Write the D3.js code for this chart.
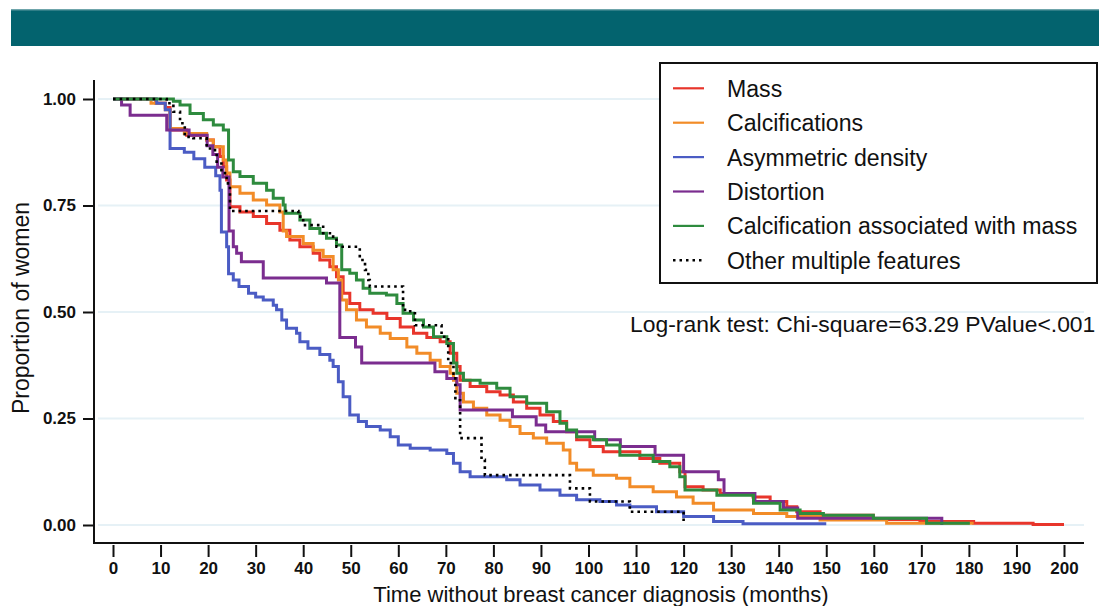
<!DOCTYPE html>
<html>
<head>
<meta charset="utf-8">
<script src="https://cdn.jsdelivr.net/npm/d3@7"></script>
<style>
  body { margin: 0; background: #fff; }
  svg { display: block; font-family: "Liberation Sans", Arial, sans-serif; }
</style>
</head>
<body>
<div id="chart"></div>
<script>
// series names (legend order)
const seriesNames = ["Mass", "Calcifications", "Asymmetric density", "Distortion",
    "Calcification associated with mass", "Other multiple features"];
const seriesColors = ["#e8352b", "#f28c28", "#4b5cc4", "#7b2d8f", "#2e8b3e", "#000000"];

// Kaplan-Meier steps: [months, proportion]
const mass = [[0,1],[9,0.99],[11,0.98],[12,0.927],[15.5,0.915],[19.7,0.904],[21.1,0.888],[22.5,0.865],
    [23.2,0.841],[23.9,0.81],[24.6,0.747],[26.7,0.735],[29.5,0.724],[32.3,0.708],[35.1,0.692],[37.2,0.669],
    [39.3,0.653],[42.1,0.638],[43.5,0.622],[45.6,0.606],[47,0.583],[48.4,0.544],[49.8,0.52],[51.9,0.505],
    [54.7,0.497],[57.6,0.485],[60.4,0.465],[63.2,0.45],[66,0.44],[68.8,0.43],[70.9,0.403],[72.3,0.372],
    [73,0.34],[75.1,0.325],[78.6,0.313],[81.4,0.305],[84.2,0.289],[87,0.274],[89.8,0.258],[92.6,0.243],
    [95.4,0.219],[97.5,0.2],[100.3,0.184],[103.1,0.172],[110.8,0.156],[115,0.145],[119.2,0.125],[120.3,0.09],
    [124.1,0.082],[127.7,0.074],[134.6,0.066],[138.2,0.055],[141.7,0.043],[143.8,0.031],[148.7,0.023],
    [159.9,0.013],[169.7,0.008],[181,0.004],[193.5,0.001],[200,0.001]];

const calcifications = [[0,1],[8,0.99],[11,0.975],[12,0.931],[15,0.919],[19.7,0.904],[21.1,0.888],[23.2,0.857],
    [23.9,0.826],[24.6,0.794],[26.7,0.779],[29.5,0.763],[32.3,0.751],[35.1,0.735],[35.8,0.69],[36.5,0.677],
    [40,0.661],[42.1,0.645],[44.2,0.63],[46.3,0.599],[47.4,0.575],[48.1,0.528],[49.1,0.505],[51.2,0.481],
    [53.3,0.465],[56.2,0.45],[58.3,0.438],[61.8,0.418],[63.9,0.403],[66.7,0.387],[68.8,0.372],[70.9,0.356],
    [71.6,0.34],[72.3,0.309],[73.7,0.289],[75.8,0.274],[78.6,0.258],[81.4,0.246],[83.5,0.231],[85.6,0.215],
    [88.4,0.204],[91.2,0.192],[94.7,0.176],[96.1,0.145],[97.5,0.129],[101,0.117],[105.9,0.11],[108.7,0.09],
    [113.6,0.078],[118.5,0.066],[122,0.051],[126.3,0.035],[134.7,0.027],[141.7,0.02],[148.7,0.012],
    [162.7,0.004],[181,0.004]];

const asymmetric = [[0,1],[9.2,0.99],[11,0.975],[12,0.884],[15,0.875],[17,0.86],[19.3,0.84],[21.6,0.82],
    [22.5,0.786],[22.8,0.688],[23.9,0.653],[24.3,0.59],[25.3,0.575],[26.5,0.56],[28.5,0.544],[30,0.535],
    [31.6,0.528],[33.7,0.516],[34.4,0.505],[35.5,0.481],[36.5,0.462],[38.6,0.45],[39.3,0.43],[41,0.415],
    [43.5,0.4],[45.6,0.387],[46.3,0.372],[47.4,0.336],[48.4,0.301],[49.8,0.258],[51.6,0.243],[53.3,0.231],
    [56.2,0.223],[58.3,0.207],[60,0.188],[62.5,0.18],[66.7,0.176],[70.2,0.168],[71.6,0.145],[73,0.125],
    [75.1,0.113],[82.8,0.106],[85.6,0.094],[89.8,0.082],[94,0.07],[97.5,0.059],[102.4,0.055],[105.9,0.047],
    [108.7,0.043],[114.3,0.031],[120,0.02],[126.3,0.008],[132.5,0.003],[150,0.003]];

const distortion = [[0,1],[1.8,0.986],[3.6,0.962],[11.3,0.927],[16,0.915],[19.8,0.89],[21,0.87],[22,0.84],
    [23.1,0.817],[24.4,0.69],[25.3,0.653],[26,0.638],[27,0.618],[31.6,0.58],[44.9,0.568],[47.7,0.44],
    [51,0.418],[52.3,0.38],[67.7,0.36],[70.2,0.344],[72.3,0.329],[73,0.27],[84,0.254],[89,0.235],[91,0.219],
    [101.3,0.2],[106.7,0.184],[114,0.164],[120,0.125],[127.3,0.106],[128.5,0.074],[135,0.055],[141,0.04],
    [144,0.016],[174.3,0]];

const calcWithMass = [[0,1],[12.7,0.995],[14.1,0.986],[16.2,0.966],[19,0.951],[21.1,0.939],[23.2,0.927],
    [24.3,0.857],[25.3,0.829],[26.7,0.818],[29.5,0.802],[32.3,0.786],[33.7,0.767],[35.8,0.751],[36.2,0.732],
    [39.3,0.716],[41.4,0.696],[43.5,0.685],[44.9,0.673],[47,0.657],[48.1,0.599],[49.8,0.591],[51.2,0.575],
    [52.6,0.556],[54,0.544],[57.5,0.54],[59.7,0.52],[61,0.497],[63.2,0.481],[65.3,0.465],[67.4,0.442],
    [70.2,0.426],[71.6,0.38],[72.3,0.356],[73.7,0.34],[77.2,0.333],[80.7,0.321],[83.5,0.301],[87,0.286],
    [91.2,0.266],[94,0.239],[95.4,0.223],[97.5,0.207],[101,0.2],[103.8,0.188],[106.6,0.164],[113.6,0.149],
    [117.1,0.137],[119.2,0.113],[120.3,0.082],[127,0.07],[134.7,0.051],[140.3,0.035],[144.5,0.027],
    [149.4,0.023],[159.9,0.016],[171.1,0.004],[180.2,0.004]];

const otherMultiple = [[0,1],[11.3,0.99],[12.7,0.97],[14.1,0.943],[15.1,0.911],[16.9,0.908],[19.7,0.888],
    [20.4,0.88],[21.8,0.853],[22.8,0.826],[23.9,0.802],[24.6,0.737],[39,0.724],[40,0.704],[44.2,0.685],
    [46.3,0.677],[47,0.653],[51.9,0.622],[53,0.599],[53.7,0.575],[54,0.56],[61,0.505],[62.5,0.497],
    [63.5,0.469],[69.1,0.442],[70.5,0.38],[71.6,0.348],[72,0.293],[73,0.204],[77.5,0.153],[78.2,0.117],
    [96.1,0.086],[100.3,0.055],[108.7,0.031],[120,0]];

const xTicks = d3.range(0, 201, 10);
const yTicks = [0, 0.25, 0.5, 0.75, 1];
const xTitle = "Time without breast cancer diagnosis (months)";
const yTitle = "Proportion of women";
const testText = "Log-rank test: Chi-square=63.29 PValue<.001";

function init() {
    const width = 1103, height = 606;
    const seriesData = [mass, calcifications, asymmetric, distortion, calcWithMass, otherMultiple];

    let svg = d3.select("#chart")
        .append("svg")
        .attr("width", width)
        .attr("height", height);

    // teal banner on top
    svg.append("rect")
        .attr("x", 11).attr("y", 9.5).attr("width", 1088).attr("height", 36.5)
        .attr("fill", "#03636e");
    svg.append("line")
        .attr("x1", 11).attr("x2", 1099).attr("y1", 10).attr("y2", 10)
        .attr("stroke", "#5f9aa0").attr("stroke-width", 1);

    let x = d3.scaleLinear().domain([0, 200]).range([113, 1064]);
    let y = d3.scaleLinear().domain([0, 1]).range([525, 99]);
    const axisX = 94, axisY = 543, plotRight = 1084, plotTop = 80;

    // light grid lines
    svg.append("g")
        .selectAll("line")
        .data(yTicks)
        .join("line")
        .attr("x1", axisX + 4).attr("x2", plotRight)
        .attr("y1", d => y(d)).attr("y2", d => y(d))
        .attr("stroke", "#e6f1f6")
        .attr("stroke-width", 2);

    // axes
    let gy = svg.append("g")
        .attr("transform", "translate(" + axisX + ",0)")
        .call(d3.axisLeft(y).tickValues(yTicks).tickSize(11).tickPadding(6).tickFormat(d3.format(".2f")));
    let gx = svg.append("g")
        .attr("transform", "translate(0," + (axisY + 2) + ")")
        .call(d3.axisBottom(x).tickValues(xTicks).tickSize(12).tickPadding(5).tickFormat(d3.format("d")));
    [gx, gy].forEach(g => {
        g.select(".domain").remove();
        g.selectAll(".tick line").attr("stroke", "#111").attr("stroke-width", 2);
        g.selectAll(".tick text")
            .attr("fill", "#111")
            .style("font-size", "17px")
            .style("font-weight", "bold")
            .style("font-family", "'Liberation Sans', Arial, sans-serif");
    });
    gy.selectAll(".tick text").attr("x", -18);

    svg.append("path")
        .attr("d", "M" + axisX + "," + plotTop + "V" + axisY + "H" + plotRight)
        .attr("fill", "none")
        .attr("stroke", "#111")
        .attr("stroke-width", 2);

    // axis titles
    svg.append("text")
        .attr("x", 601).attr("y", 602)
        .attr("text-anchor", "middle")
        .style("font-size", "22px")
        .attr("fill", "#111")
        .text(xTitle);
    svg.append("text")
        .attr("transform", "translate(29,308) rotate(-90)")
        .attr("text-anchor", "middle")
        .style("font-size", "23px")
        .attr("fill", "#111")
        .text(yTitle);

    // survival curves
    let line = d3.line()
        .curve(d3.curveStepAfter)
        .x(d => x(d[0]))
        .y(d => y(d[1]));

    svg.append("g")
        .selectAll("path")
        .data(seriesData)
        .join("path")
        .attr("d", d => line(d))
        .attr("fill", "none")
        .attr("stroke", (d, i) => seriesColors[i])
        .attr("stroke-width", (d, i) => i === 5 ? 2.6 : 3)
        .attr("stroke-dasharray", (d, i) => i === 5 ? "2.6,4" : null);

    // legend
    let legend = svg.append("g");
    legend.append("rect")
        .attr("x", 660).attr("y", 63).attr("width", 437).attr("height", 220)
        .attr("fill", "#fff")
        .attr("stroke", "#111")
        .attr("stroke-width", 2);
    let rows = legend.selectAll("g.row")
        .data(seriesNames)
        .join("g")
        .attr("class", "row")
        .attr("transform", (d, i) => "translate(0," + (88.3 + i * 34.4) + ")");
    rows.append("line")
        .attr("x1", 673).attr("x2", 704)
        .attr("stroke", (d, i) => seriesColors[i])
        .attr("stroke-width", (d, i) => i === 5 ? 2.5 : 2.2)
        .attr("stroke-dasharray", (d, i) => i === 5 ? "2.5,4" : null);
    rows.append("text")
        .attr("x", 727).attr("y", 8.5)
        .style("font-size", "23.1px")
        .attr("fill", "#111")
        .text(d => d);

    svg.append("text")
        .attr("x", 630).attr("y", 332)
        .style("font-size", "22.9px")
        .attr("fill", "#111")
        .text(testText);
}

window.addEventListener('load', init);
</script>
</body>
</html>
